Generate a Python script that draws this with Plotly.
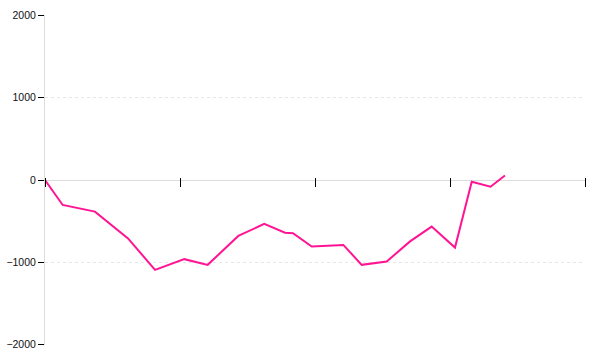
import plotly.graph_objects as go

# x positions (axis units, ticks every 1) and values
x_vals = [0.0, 0.131, 0.370, 0.615, 0.815, 1.032, 1.205, 1.432, 1.624, 1.778, 1.837,
          1.976, 2.210, 2.346, 2.531, 2.704, 2.864, 3.037, 3.161, 3.300, 3.407]
y_vals = [0, -303, -384, -709, -1091, -961, -1030, -679, -533, -639, -646,
          -808, -788, -1030, -990, -745, -566, -820, -21, -81, 55]

y_ticks = [-2000, -1000, 0, 1000, 2000]
y_tick_text = ["\u22122000", "\u22121000", "0", "1000", "2000"]

fig = go.Figure()
fig.add_trace(go.Scatter(x=x_vals, y=y_vals, mode="lines",
                         line=dict(color="#ff1493", width=2), hoverinfo="skip"))

fig.update_layout(
    width=600, height=360,
    margin=dict(l=45, r=15, t=15, b=15),
    paper_bgcolor="white", plot_bgcolor="white",
    showlegend=False,
    font=dict(family="Liberation Sans, Arial, sans-serif", size=10.5, color="#111"),
    xaxis=dict(range=[0, 4], dtick=1, tick0=0, showgrid=False, zeroline=False,
               showline=False, showticklabels=False, ticks="outside", ticklen=9,
               tickcolor="#000", tickwidth=1, anchor="free", position=0.5 + 3/330,
               automargin=False),
    yaxis=dict(range=[-2003, 2003], tickvals=y_ticks, ticktext=y_tick_text,
               showgrid=True, gridcolor="#e6e6e6", griddash="3px,3px", gridwidth=1,
               zeroline=True, zerolinecolor="#dddddd", zerolinewidth=1,
               showline=True, linecolor="#dddddd", linewidth=1,
               ticks="outside", ticklen=6, tickcolor="#000", tickwidth=1,
               automargin=False),
)

fig.write_html("out.html")
